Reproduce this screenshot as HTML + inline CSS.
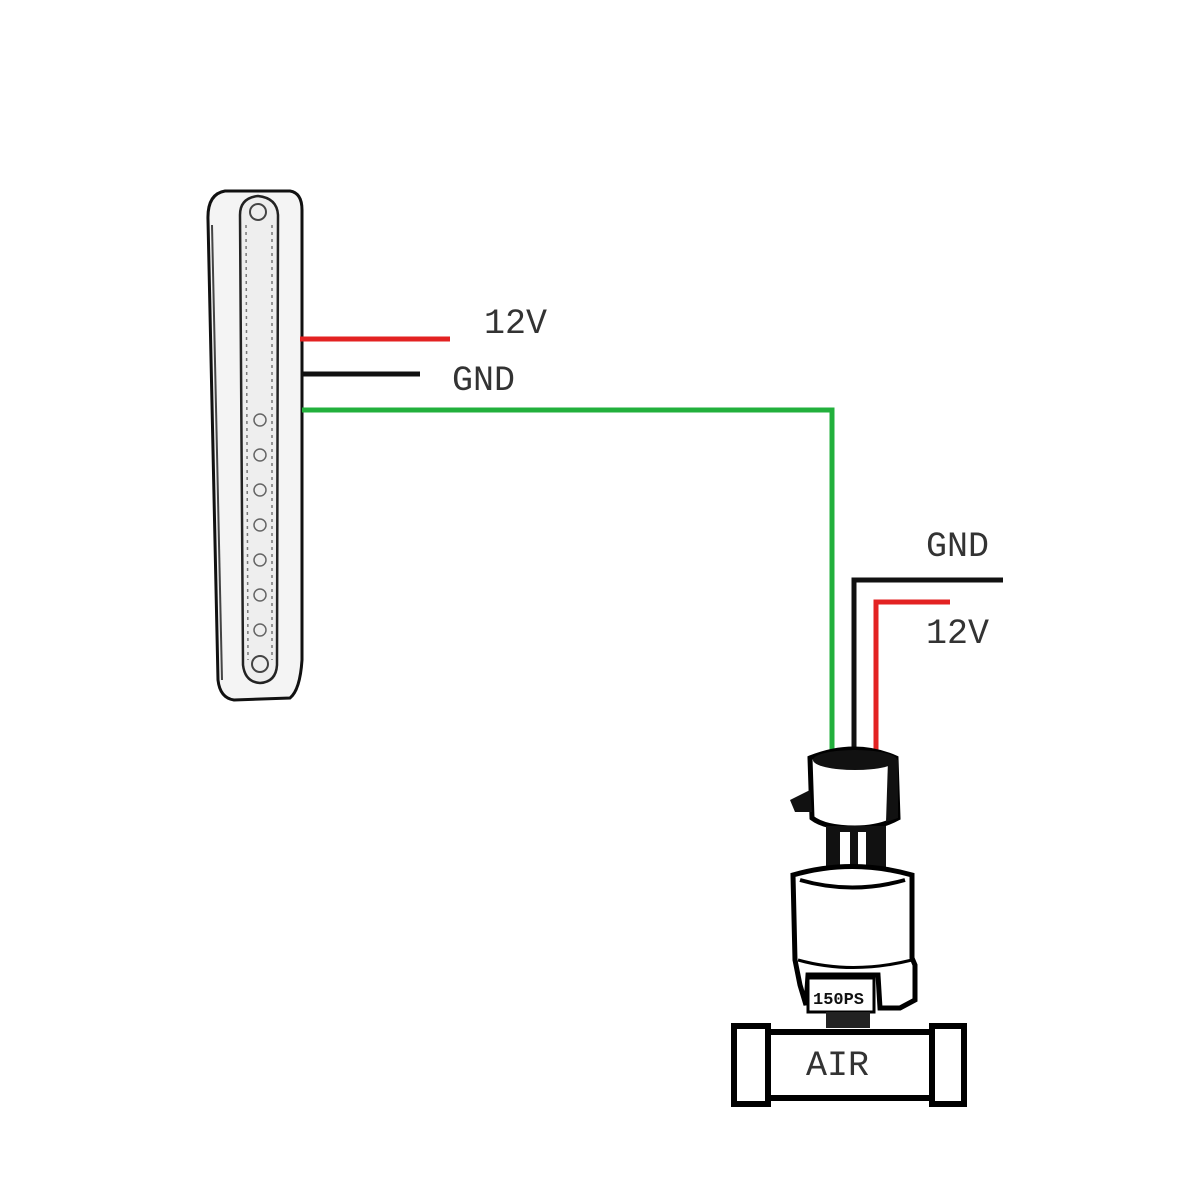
<!DOCTYPE html>
<html><head><meta charset="utf-8"><style>
html,body{margin:0;padding:0;background:#fff;}
svg{display:block}
text{font-family:"Liberation Mono",monospace;font-size:35px;fill:#333;}
</style></head><body>
<svg width="1200" height="1200" viewBox="0 0 1200 1200" xmlns="http://www.w3.org/2000/svg">
<rect width="1200" height="1200" fill="#fff"/>
<!-- gauge -->
<path d="M225 191 L290 191 Q302 193 302 210 L302 660 Q300 690 290 698 L234 700 Q220 698 218 680 L208 220 Q207 194 225 191 Z" fill="#f4f4f4" stroke="#111" stroke-width="3"/>
<path d="M212 225 L222 680" stroke="#444" stroke-width="2" fill="none"/>
<path d="M258 196 Q240 198 240 215 L243 665 Q245 682 260 683 Q276 682 277 665 L278 215 Q277 198 258 196 Z" fill="#eee" stroke="#222" stroke-width="2.5"/>
<path d="M246 225 L248 660 M272 225 L272 660" stroke="#777" stroke-width="1.5" stroke-dasharray="3 4"/>
<circle cx="258" cy="212" r="8" fill="none" stroke="#444" stroke-width="2"/>
<circle cx="260" cy="664" r="8" fill="none" stroke="#444" stroke-width="2"/>
<g fill="none" stroke="#666" stroke-width="1.5">
<circle cx="260" cy="420" r="6"/><circle cx="260" cy="455" r="6"/><circle cx="260" cy="490" r="6"/><circle cx="260" cy="525" r="6"/><circle cx="260" cy="560" r="6"/><circle cx="260" cy="595" r="6"/><circle cx="260" cy="630" r="6"/>
</g>
<!-- wires -->
<line x1="300" y1="339" x2="450" y2="339" stroke="#e32222" stroke-width="5"/>
<line x1="302" y1="374" x2="420" y2="374" stroke="#111" stroke-width="5"/>
<polyline points="302,410 832,410 832,755" fill="none" stroke="#22b03c" stroke-width="5"/>
<polyline points="1003,580 854,580 854,755" fill="none" stroke="#111" stroke-width="5"/>
<polyline points="950,602 876,602 876,762" fill="none" stroke="#e32222" stroke-width="5"/>
<text x="484" y="333">12V</text>
<text x="452" y="390">GND</text>
<text x="926" y="556">GND</text>
<text x="926" y="643">12V</text>
<!-- sensor connector -->
<path d="M810 758 Q855 740 896 758 L898 818 Q880 828 855 828 Q825 828 812 818 Z" fill="#fff" stroke="#000" stroke-width="5"/>
<ellipse cx="855" cy="760" rx="42" ry="10" fill="#111"/>
<path d="M888 760 L898 760 L898 818 L886 822 Z" fill="#111"/>
<path d="M790 800 L810 790 L812 812 L795 812 Z" fill="#111"/>
<!-- neck -->
<rect x="826" y="826" width="60" height="52" fill="#111"/>
<rect x="840" y="832" width="10" height="44" fill="#fff"/>
<rect x="858" y="832" width="8" height="44" fill="#fff"/>
<!-- body -->
<path d="M793 875 Q852 858 912 875 L912 958 L915 965 L915 1000 L900 1008 L880 1008 L878 975 L808 975 L806 1005 L800 985 L795 960 Z" fill="#fff" stroke="#000" stroke-width="5"/>
<path d="M800 880 Q852 895 905 880" fill="none" stroke="#000" stroke-width="4"/>
<path d="M798 960 Q852 975 912 960" fill="none" stroke="#000" stroke-width="3"/>
<rect x="808" y="978" width="66" height="34" fill="#fff" stroke="#000" stroke-width="3"/>
<text x="813" y="1004" style="font-size:17px;font-weight:bold;fill:#111">150PS</text>
<rect x="826" y="1012" width="44" height="16" fill="#222"/>
<!-- pipe -->
<rect x="768" y="1032" width="164" height="66" fill="#fff" stroke="#000" stroke-width="6"/>
<rect x="734" y="1026" width="34" height="78" fill="#fff" stroke="#000" stroke-width="6"/>
<rect x="932" y="1026" width="32" height="78" fill="#fff" stroke="#000" stroke-width="6"/>
<text x="806" y="1075">AIR</text>
</svg>
</body></html>
